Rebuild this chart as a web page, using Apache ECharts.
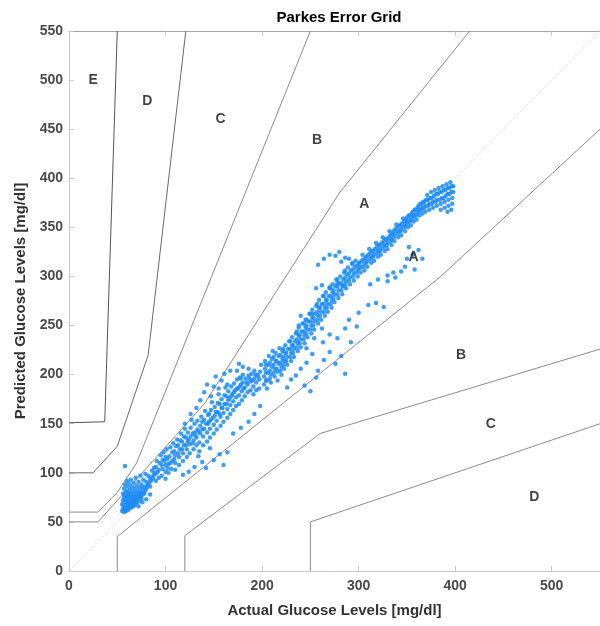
<!DOCTYPE html>
<html>
<head>
<meta charset="utf-8">
<script src="https://cdn.jsdelivr.net/npm/echarts@6/dist/echarts.min.js"></script>
<style>
  html, body { margin: 0; padding: 0; background: #fff; }
  #chart { width: 600px; height: 626px; }
</style>
</head>
<body>
<div id="chart"></div>
<script>
// zone boundaries [actual, predicted]
var zoneAUpper = [[0, 50], [30, 50], [140, 170], [280, 385], [415, 550]];
var zoneALower = [[50, 0], [50, 35], [385, 300], [550, 450]];
var zoneBUpper = [[0, 60], [30, 60], [50, 80], [70, 110], [250, 550]];
var zoneBLower = [[120, 0], [120, 36], [260, 140], [550, 226]];
var zoneCUpper = [[0, 100], [25, 100], [50, 127], [82, 220], [121, 550]];
var zoneCLower = [[250, 0], [250, 50], [550, 150]];
var zoneDUpper = [[0, 151], [37, 152], [50, 550]];
var identityLine = [[0, 0], [550, 550]];

var zoneNames = ['E', 'D', 'C', 'B', 'A', 'A', 'B', 'C', 'D'];
var zonePos = [[25, 500], [81, 479], [157, 460], [257, 439], [306, 374], [357, 320], [406, 220], [437, 150], [482, 75]];

var lowCluster = [[55,61],[55,68],[56,64],[56,72],[56,79],[57,60],[57,66],[57,75],[57,84],[58,63],[58,70],[58,77],[58,88],[59,61],[59,67],[59,73],[59,81],[60,64],[60,70],[60,76],[60,86],[60,92],[61,62],[61,68],[61,74],[61,80],[62,66],[62,71],[62,78],[62,89],[63,64],[63,69],[63,75],[63,83],[64,67],[64,72],[64,79],[64,93],[65,65],[65,70],[65,76],[65,86],[66,68],[66,74],[66,81],[67,66],[67,71],[67,78],[67,90],[68,70],[68,75],[68,84],[69,68],[69,73],[69,80],[69,95],[70,72],[70,77],[70,87],[71,70],[71,75],[71,82],[72,74],[72,79],[72,91],[73,72],[73,77],[73,85],[74,76],[74,81],[74,97],[75,74],[75,79],[75,88],[76,78],[76,84],[77,80],[77,93],[78,79],[78,86],[79,82],[79,99],[80,84],[80,91],[81,86],[82,88],[82,97],[83,90],[84,86],[84,94],[85,92],[86,96],[86,102],[87,94],[88,98],[88,105],[89,100],[72,66],[76,70],[80,73],[84,78],[58,107]];

var midBand = [[90,92],[90,99],[90,106],[91,112],[93,95],[93,103],[94,110],[95,118],[96,97],[97,104],[97,113],[98,121],[100,94],[100,101],[100,108],[100,116],[101,124],[103,100],[103,109],[104,117],[105,126],[106,104],[107,112],[107,121],[108,130],[110,103],[110,110],[110,118],[111,127],[112,134],[114,108],[114,116],[115,124],[115,133],[116,140],[118,112],[118,120],[119,128],[119,137],[120,145],[122,116],[122,124],[123,132],[123,141],[125,120],[125,129],[126,137],[126,146],[127,154],[129,124],[129,133],[130,141],[130,150],[132,128],[132,136],[133,144],[133,153],[135,122],[135,131],[136,140],[136,148],[137,157],[139,128],[139,137],[140,145],[140,154],[141,163],[143,132],[143,141],[144,150],[144,159],[146,136],[146,145],[147,154],[147,164],[148,172],[150,140],[150,149],[151,158],[151,167],[153,144],[153,153],[154,162],[154,171],[155,180],[157,148],[157,157],[158,166],[158,175],[160,152],[160,161],[161,170],[161,179],[162,187],[164,156],[164,165],[165,174],[165,183],[167,160],[167,169],[168,178],[168,188],[170,164],[170,173],[171,182],[171,191],[173,168],[173,177],[174,186],[174,195],[176,170],[176,179],[177,188],[177,197],[179,174],[179,183],[180,192],[180,200],[182,178],[182,187],[183,196],[185,182],[185,190],[186,199],[186,206],[188,184],[188,193],[189,201],[191,180],[191,188],[192,196],[192,204],[194,184],[194,192],[195,200],[197,186],[197,195],[198,203],[199,210]];

var midFill = [[92,101],[96,108],[99,112],[102,105],[102,114],[105,110],[109,114],[109,122],[113,120],[113,128],[117,124],[117,132],[121,128],[121,136],[124,134],[128,130],[128,140],[131,138],[134,142],[138,144],[138,152],[142,150],[145,152],[145,160],[149,156],[152,162],[156,160],[156,170],[159,166],[163,170],[163,178],[166,176],[169,180],[172,184],[175,186],[178,190],[181,186],[184,192],[187,196],[190,194],[193,200],[196,198]];

var highBand = [[202,190],[202,198],[203,206],[203,214],[205,186],[205,194],[206,202],[206,210],[207,219],[209,192],[209,200],[210,208],[210,216],[211,224],[213,198],[213,206],[214,214],[214,222],[216,194],[216,203],[217,211],[217,219],[218,227],[220,200],[220,208],[221,216],[221,224],[223,206],[223,214],[224,222],[224,230],[226,210],[226,218],[227,226],[228,234],[230,214],[230,222],[231,230],[231,238],[233,218],[233,226],[234,234],[235,242],[237,224],[237,232],[238,240],[238,248],[240,228],[240,236],[241,244],[242,252],[244,232],[244,240],[245,248],[245,256],[247,238],[247,246],[248,254],[249,262],[251,242],[251,250],[252,258],[252,266],[254,246],[254,254],[255,262],[256,270],[258,252],[258,260],[259,268],[259,276],[261,256],[261,264],[262,272],[263,280],[265,260],[265,268],[266,276],[266,284],[268,264],[268,272],[269,280],[270,288],[272,268],[272,276],[273,284],[273,292],[275,274],[275,282],[276,290],[277,297],[279,278],[279,286],[280,293],[281,300],[283,282],[283,290],[284,297],[285,304],[287,288],[287,295],[288,302],[289,309],[291,292],[291,299],[292,306],[293,313],[295,296],[295,303],[296,310],[297,316],[299,300],[299,307],[300,313],[302,304],[302,310],[303,316],[304,322],[306,306],[306,313],[307,319],[309,310],[309,316],[310,322],[311,328],[313,314],[313,320],[314,326],[316,316],[316,322],[317,328],[318,334],[320,320],[320,326],[321,332],[323,322],[323,328],[324,334],[325,340],[327,326],[327,332],[328,338],[330,328],[330,334],[331,340],[332,346],[334,332],[334,338],[335,344],[337,336],[337,342],[338,348],[339,353],[341,340],[341,346],[342,352],[344,342],[344,348],[345,354],[346,359],[348,346],[348,352],[349,358],[351,350],[351,356],[352,362],[354,352],[354,358],[355,364],[357,356],[357,362],[358,368],[360,358],[360,364],[361,370],[363,362],[363,368],[364,374],[366,364],[366,370],[367,376],[369,366],[369,372],[370,378],[371,383],[373,368],[373,374],[374,380],[375,386],[377,370],[377,376],[378,382],[379,388],[381,372],[381,378],[382,384],[383,390],[385,368],[385,374],[386,380],[386,386],[387,392],[389,370],[389,376],[390,382],[390,388],[391,394],[393,372],[393,378],[394,384],[394,390],[395,396],[397,374],[397,380],[398,386],[398,392],[396,368],[392,366]];

var highFill = [[204,194],[204,202],[204,210],[208,196],[208,204],[208,212],[212,202],[212,210],[212,218],[215,206],[215,214],[219,204],[219,212],[219,220],[222,210],[222,218],[222,226],[225,214],[225,222],[229,218],[229,226],[229,234],[232,222],[232,230],[236,228],[236,236],[236,244],[239,232],[239,240],[243,236],[243,244],[243,252],[246,242],[246,250],[250,246],[250,254],[250,262],[253,250],[253,258],[257,256],[257,264],[257,272],[260,260],[260,268],[264,264],[264,272],[264,280],[267,268],[267,276],[271,272],[271,280],[271,288],[274,278],[274,286],[278,282],[278,290],[278,297],[282,286],[282,293],[286,292],[286,299],[286,306],[290,296],[290,303],[294,300],[294,307],[294,314],[298,304],[298,311],[301,308],[301,314],[305,310],[305,317],[308,314],[308,320],[312,318],[312,324],[315,320],[315,326],[319,324],[319,330],[322,326],[322,332],[326,330],[326,336],[329,332],[329,338],[333,336],[333,342],[336,340],[336,346],[340,344],[340,350],[343,346],[343,352],[347,350],[347,356],[350,354],[350,360],[353,356],[353,362],[356,360],[356,366],[359,362],[359,368],[362,366],[362,372],[365,368],[365,374],[368,370],[368,376],[372,372],[372,378],[376,374],[376,380],[380,376],[380,384],[384,378],[384,386],[388,380],[388,388],[392,384],[392,390],[396,386],[396,392]];

var scatterAbove = [[120,150],[126,160],[132,166],[136,174],[140,182],[143,190],[147,178],[150,188],[152,198],[155,186],[158,194],[161,201],[164,190],[167,204],[174,204],[176,211],[180,208],[178,196],[240,260],[246,256],[252,262],[238,250],[256,288],[262,291],[270,289],[278,293],[284,290],[258,312],[264,318],[270,322],[276,321],[282,315],[286,319],[280,325],[290,318]];

var scatterBelow = [[118,98],[124,101],[130,106],[138,111],[142,105],[150,113],[156,119],[160,108],[164,121],[146,125],[134,117],[170,140],[178,146],[186,152],[192,160],[198,168],[226,187],[230,195],[235,199],[240,206],[244,189],[246,212],[250,183],[252,221],[256,197],[258,204],[264,215],[270,223],[276,211],[282,219],[286,201],[263,233],[270,241],[278,237],[286,247],[292,233],[298,249],[246,227],[254,237],[262,247],[290,256],[300,263],[310,271],[318,273],[326,269],[312,292],[320,297],[330,301],[338,299],[344,305],[350,318],[356,322],[362,327],[366,318],[358,307],[348,310],[352,330],[330,295],[336,304]];

var readings = lowCluster.concat(midBand, midFill, highBand, highFill, scatterAbove, scatterBelow);

var labelData = zoneNames.map(function (n, i) {
  return { name: n, value: zonePos[i] };
});

function zoneLine(data, color) {
  return {
    type: 'line',
    data: data,
    symbol: 'none',
    silent: true,
    z: 2,
    lineStyle: { color: color, width: 1 },
    animation: false
  };
}

var axisFont = 'Liberation Sans, Arial, sans-serif';
var chart = echarts.init(document.getElementById('chart'));
chart.setOption({
  animation: false,
  title: {
    text: 'Parkes Error Grid',
    left: 339,
    top: 10,
    padding: 0,
    textAlign: 'center',
    textStyle: { color: '#000', fontSize: 15, fontWeight: 'bold', fontFamily: axisFont }
  },
  grid: { left: 69, top: 31, width: 540, height: 540 },
  xAxis: [{
    type: 'value',
    min: 0,
    max: 550,
    interval: 100,
    name: 'Actual Glucose Levels [mg/dl]',
    nameLocation: 'middle',
    nameGap: 32,
    nameTextStyle: { color: '#333', fontSize: 15, fontWeight: 'bold', fontFamily: axisFont },
    axisLine: { lineStyle: { color: '#c8c8c8' } },
    axisTick: { inside: true, length: 5, lineStyle: { color: '#c8c8c8' } },
    axisLabel: { color: '#4a4a4a', fontSize: 14, fontWeight: 'bold', fontFamily: axisFont, margin: 8, showMaxLabel: false },
    splitLine: { show: false }
  }, {
    type: 'value',
    position: 'top',
    min: 0,
    max: 550,
    interval: 100,
    axisLine: { lineStyle: { color: '#a8a8a8' } },
    axisTick: { inside: true, length: 5, lineStyle: { color: '#c8c8c8' } },
    axisLabel: { show: false },
    splitLine: { show: false }
  }],
  yAxis: {
    type: 'value',
    min: 0,
    max: 550,
    interval: 50,
    name: 'Predicted Glucose Levels [mg/dl]',
    nameLocation: 'middle',
    nameGap: 38,
    nameTextStyle: { color: '#333', fontSize: 15, fontWeight: 'bold', fontFamily: axisFont },
    axisLine: { show: true, lineStyle: { color: '#c8c8c8' } },
    axisTick: { show: true, inside: true, length: 5, lineStyle: { color: '#c8c8c8' } },
    axisLabel: { color: '#4a4a4a', fontSize: 14, fontWeight: 'bold', fontFamily: axisFont, margin: 6 },
    splitLine: { show: false }
  },
  series: [
    {
      type: 'line',
      data: identityLine,
      symbol: 'none',
      silent: true,
      z: 1,
      lineStyle: { color: '#cfcfcf', width: 1, type: 'dotted' }
    },
    zoneLine(zoneAUpper, '#8a8a8a'),
    zoneLine(zoneALower, '#8a8a8a'),
    zoneLine(zoneBUpper, '#8a8a8a'),
    zoneLine(zoneBLower, '#8a8a8a'),
    zoneLine(zoneCUpper, '#6a6a6a'),
    zoneLine(zoneCLower, '#8a8a8a'),
    zoneLine(zoneDUpper, '#555555'),
    {
      type: 'scatter',
      data: readings,
      symbolSize: 4.5,
      z: 3,
      itemStyle: { color: '#1E8CF5', opacity: 0.85 }
    },
    {
      type: 'scatter',
      data: labelData,
      symbolSize: 1,
      silent: true,
      z: 4,
      itemStyle: { color: 'rgba(0,0,0,0)' },
      label: {
        show: true,
        position: 'inside',
        formatter: '{b}',
        color: '#111',
        fontSize: 14,
        fontWeight: 'bold',
        fontFamily: axisFont
      }
    }
  ]
});
</script>
</body>
</html>
